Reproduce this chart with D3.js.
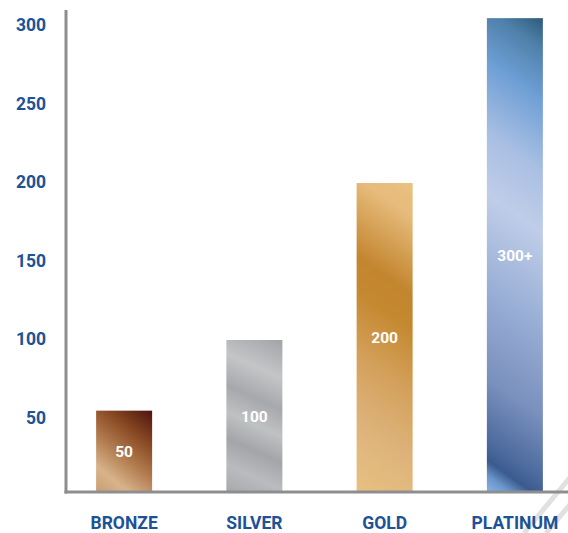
<!DOCTYPE html>
<html>
  <head>
    <meta charset="utf-8">
    <title>Tiers</title>
    <script src="https://cdn.jsdelivr.net/npm/d3@7"></script>
    <style>
      html, body { margin: 0; padding: 0; background: #fff; }
      svg { display: block; }
      .tick-label, .cat-label { font-family: Roboto, "DejaVu Sans", sans-serif; font-weight: 700; fill: #1d5296; }
      .bar-label { font-family: Roboto, "DejaVu Sans", sans-serif; font-weight: 700; fill: #fff; }
    </style>
  </head>
  <body>
    <div id="chart"></div>
    <script>
      // data
      var categories = ["BRONZE", "SILVER", "GOLD", "PLATINUM"];
      var values = [55, 100, 200, 305];
      var barLabels = ["50", "100", "200", "300+"];
      var yTicks = [50, 100, 150, 200, 250, 300];

      // gradient stops per tier (offset, colour)
      var bronzeStops = [[0, "#c99d74"], [0.2, "#d8b38a"], [0.45, "#b27c50"], [0.7, "#8a4b24"], [1, "#4e140e"]];
      var silverStops = [[0, "#a7a9ac"], [0.15, "#b9bbbe"], [0.3, "#a3a5a8"], [0.45, "#bfc1c3"], [0.6, "#a6a8ab"], [0.78, "#c3c5c7"], [1, "#a2a4a7"]];
      var goldStops = [[0, "#e9c181"], [0.1, "#e6bb7b"], [0.32, "#c38630"], [0.42, "#c4882f"], [0.6, "#d3a05a"], [0.8, "#ddb37b"], [1, "#e8c081"]];
      var platStops = [[0, "#2f5a7c"], [0.06, "#4f80a9"], [0.16, "#6e9fd5"], [0.3, "#a9bfe3"], [0.42, "#bfcde8"], [0.6, "#9aafd6"], [0.78, "#7a90bd"], [0.9, "#4d6b9e"], [0.94, "#3b5b8e"], [0.97, "#6b96cc"], [1, "#88b2e2"]];
      var stopSets = [bronzeStops, silverStops, goldStops, platStops];
      // isoline slope (dy per dx) of the sheen on each bar
      var slopes = [-0.8, -0.45, 0.7, 0.7];

      var W = 568, H = 533;
      var axisX = 66, axisY = 492, baseline = 491;

      var x = d3.scaleBand().domain(categories).range([59, 580]).paddingInner(0.57).paddingOuter(0.285);
      var y = d3.scaleLinear().domain([0, 300]).range([497, 26]);

      var svg = d3.select("#chart").append("svg").attr("width", W).attr("height", H);
      var defs = svg.append("defs");

      // gradients, laid out in user space so the sheen keeps its angle on tall bars
      categories.forEach(function (c, i) {
        var x0 = x(c), x1 = x0 + x.bandwidth(), top = y(values[i]), bot = baseline;
        var w = x1 - x0, h = bot - top, k = slopes[i];
        var g = defs.append("linearGradient").attr("id", "g" + i).attr("gradientUnits", "userSpaceOnUse");
        var nx, ny, sx, sy;
        if (k > 0) { // isolines fall to the right: run from top-right to bottom-left
          nx = -k; ny = 1; sx = x1; sy = top;
        } else {     // isolines rise to the right: run from bottom-left to top-right
          nx = -k; ny = -1; sx = x0; sy = bot;
        }
        var len = Math.abs(nx) * w + h;
        var s = len / (nx * nx + ny * ny);
        g.attr("x1", sx).attr("y1", sy).attr("x2", sx + nx * s).attr("y2", sy + ny * s);
        stopSets[i].forEach(function (st) {
          g.append("stop").attr("offset", st[0]).attr("stop-color", st[1]);
        });
      });

      // hatching at the end of the baseline
      var hatch = [[524, 533, 572, 475], [546, 533, 572, 502]];
      svg.selectAll("line.hatch").data(hatch).enter().append("line")
        .attr("class", "hatch")
        .attr("x1", function (d) { return d[0]; }).attr("y1", function (d) { return d[1]; })
        .attr("x2", function (d) { return d[2]; }).attr("y2", function (d) { return d[3]; })
        .attr("stroke", "#e1e1e1").attr("stroke-width", 5);

      // bars
      svg.selectAll("rect.bar").data(values).enter().append("rect")
        .attr("class", "bar")
        .attr("x", function (d, i) { return x(categories[i]); })
        .attr("y", function (d) { return y(d); })
        .attr("width", x.bandwidth())
        .attr("height", function (d) { return baseline - y(d); })
        .attr("fill", function (d, i) { return "url(#g" + i + ")"; });

      svg.selectAll("text.bar-label").data(values).enter().append("text")
        .attr("class", "bar-label")
        .attr("x", function (d, i) { return x(categories[i]) + x.bandwidth() / 2; })
        .attr("y", function (d) { return (y(d) + baseline) / 2 + 1; })
        .attr("dy", "0.35em")
        .attr("text-anchor", "middle")
        .attr("font-size", 15.5)
        .text(function (d, i) { return barLabels[i]; });

      // axes
      svg.append("line").attr("x1", axisX).attr("x2", axisX).attr("y1", 10).attr("y2", axisY + 1.5)
        .attr("stroke", "#8e8e91").attr("stroke-width", 3);
      svg.append("line").attr("x1", axisX - 1.5).attr("x2", W).attr("y1", axisY).attr("y2", axisY)
        .attr("stroke", "#8e8e91").attr("stroke-width", 3);

      svg.selectAll("text.tick-label").data(yTicks).enter().append("text")
        .attr("class", "tick-label")
        .attr("x", 46)
        .attr("y", function (d) { return y(d) - 1; })
        .attr("dy", "0.35em")
        .attr("text-anchor", "end")
        .attr("font-size", 17.5)
        .text(function (d) { return d; });

      svg.selectAll("text.cat-label").data(categories).enter().append("text")
        .attr("class", "cat-label")
        .attr("x", function (d) { return x(d) + x.bandwidth() / 2; })
        .attr("y", 523)
        .attr("dy", "0.35em")
        .attr("text-anchor", "middle")
        .attr("font-size", 17.5)
        .text(function (d) { return d; });
    </script>
  </body>
</html>
